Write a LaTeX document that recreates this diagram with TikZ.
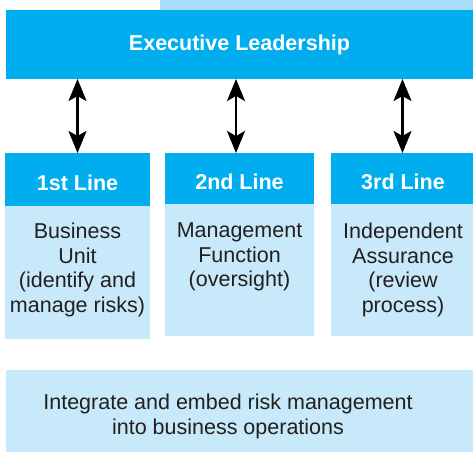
\documentclass[tikz,border=0pt]{standalone}
\usepackage{fontspec}
\setmainfont{Liberation Sans}
\usetikzlibrary{arrows.meta}
\definecolor{dkblue}{HTML}{00AEEF}
\definecolor{ltblue}{HTML}{C7E9F9}
\definecolor{stripblue}{HTML}{A8DDF8}
\definecolor{txtgray}{HTML}{231F20}
\begin{document}
\begin{tikzpicture}[x=1pt,y=-1pt,
  hdrtxt/.style={text=white,font=\fontsize{21.5}{24.5}\selectfont\bfseries,inner sep=0pt},
  bodytxt/.style={text=txtgray,font=\fontsize{21.5}{24.5}\selectfont,align=center,inner sep=0pt,anchor=north},
  tip/.style={Stealth[length=22pt,width=18pt,inset=5pt]},
  dbl/.style={line width=2.2pt,{Stealth[length=22pt,width=18pt,inset=5pt]}-{Stealth[length=22pt,width=18pt,inset=5pt]}}]
\useasboundingbox (0,0) rectangle (473,452);
% top strip
\fill[stripblue] (160,0) rectangle (473,10);
% executive box
\fill[dkblue] (6,10) rectangle (473,79);
\node[hdrtxt] (exec) at (239.5,44.5) {Executive Leadership};
\coordinate (e1) at (77.5,79);
\coordinate (e2) at (236,79);
\coordinate (e3) at (402.5,79);
% column 1
\fill[ltblue] (5,153) rectangle (150,339);
\fill[dkblue] (5,153) rectangle (150,206);
\node[hdrtxt] (h1) at (77.5,183) {1st Line};
\node[bodytxt] (b1) at (77.5,223) {Business\\Unit\\(identify and\\manage risks)};
\coordinate (t1) at (77.5,153);
% column 2
\fill[ltblue] (165,153) rectangle (314,336);
\fill[dkblue] (165,153) rectangle (314,204);
\node[hdrtxt] (h2) at (239.5,182) {2nd Line};
\node[bodytxt] (b2) at (239.5,223) {Management\\Function\\(oversight)};
\coordinate (t2) at (236,153);
% column 3
\fill[ltblue] (331,153) rectangle (473,336);
\fill[dkblue] (331,153) rectangle (473,204);
\node[hdrtxt] (h3) at (403,182) {3rd Line};
\node[bodytxt] (b3) at (403,223) {Independent\\Assurance\\(review\\process)};
\coordinate (t3) at (402.5,153);
% bottom box
\fill[ltblue] (6,370) rectangle (473,452);
\node[bodytxt] (bot) at (228,394) {Integrate and embed risk management\\into business operations};
% arrows
\draw[dbl] (e1) -- (t1);
\draw[dbl] (e2) -- (t2);
\draw[dbl] (e3) -- (t3);
\end{tikzpicture}
\end{document}
